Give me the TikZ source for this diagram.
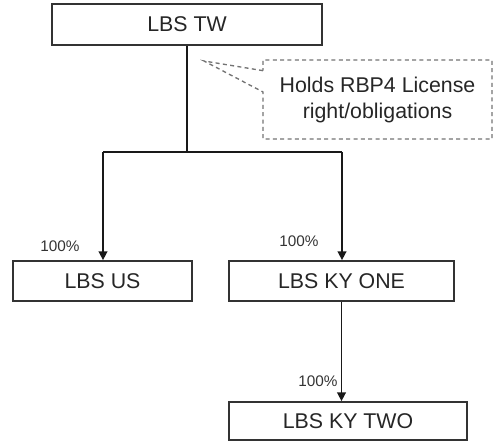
\documentclass[tikz,border=0pt]{standalone}
\usepackage{fontspec}
\setmainfont{Liberation Sans}
\usetikzlibrary{arrows.meta,shapes.callouts}

\begin{document}
\begin{tikzpicture}[
		% 1 enota = 1 piksel slike
		x=0.75pt, y=-0.75pt,
		box/.style={draw=black!80, line width=1.3pt, fill=white, text=black!85, font=\fontsize{16}{19.5}\selectfont, inner sep=0pt},
		share/.style={text=black!80, font=\fontsize{11.5}{13}\selectfont, inner sep=0pt},
		link/.style={draw=black!90, line width=1.1pt},
		down/.style={link, -{Triangle[length=6.5pt,width=6.5pt]}}
		]
		\useasboundingbox (0,0) rectangle (498,441);
		\node[box, minimum width=202.5pt, minimum height=30.75pt] (tw) at (187,24.5) {LBS TW};
		\node[box, minimum width=134.25pt, minimum height=30pt] (us) at (102.5,281) {LBS US};
		\node[box, minimum width=168.75pt, minimum height=30pt] (kyone) at (341.5,281) {LBS KY ONE};
		\node[box, minimum width=178.5pt, minimum height=28.5pt] (kytwo) at (348,421) {LBS KY TWO};
		\node[rectangle callout, callout absolute pointer={(204,61)}, callout pointer width=16pt,
			draw=black!55, line width=1pt, dash pattern=on 3pt off 2.5pt, text=black!85,
			align=center, font=\fontsize{16}{19.5}\selectfont,
			minimum width=171.75pt, minimum height=59.25pt] (note) at (377.5,99.5) {Holds RBP4 License\\right/obligations};
		\coordinate (split) at (187,152);
		\coordinate (left) at (103,152);
		\coordinate (right) at (342,152);
		\draw[link, line width=1.4pt] (tw.south) -- (split);
		\draw[link] (left) -- (right);
		\draw[down] (left) -- (left |- us.north);
		\draw[down] (right) -- (right |- kyone.north);
		\draw[down] (kyone.south) -- (kyone.south |- kytwo.north);
		\node[share] (pus) at (60,246) {100\%};
		\node[share] (pkyone) at (299,241) {100\%};
		\node[share] (pkytwo) at (318,381) {100\%};
	\end{tikzpicture}
\end{document}
